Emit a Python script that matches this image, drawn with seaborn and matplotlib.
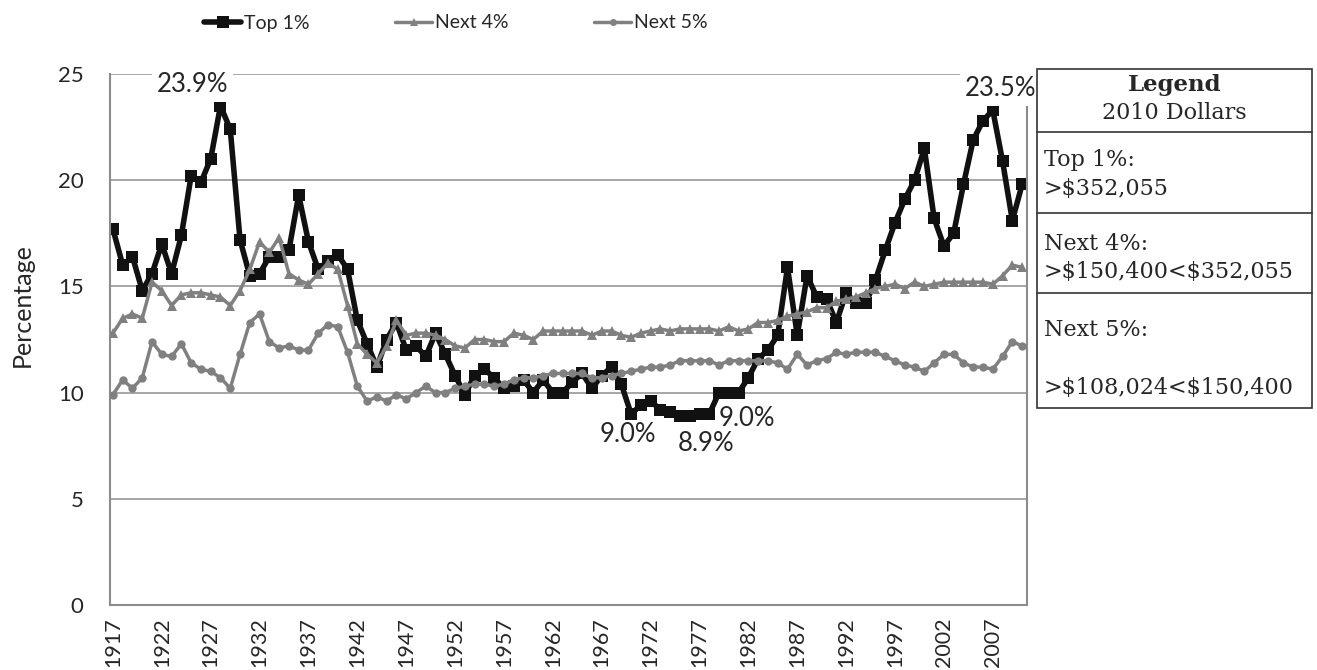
import matplotlib
matplotlib.use("Agg")
import matplotlib.pyplot as plt
from matplotlib.patches import Rectangle
from matplotlib.lines import Line2D
import seaborn as sns
import pandas as pd

years = list(range(1917, 2011))

top1 = [17.7, 16.0, 16.4, 14.8, 15.6, 17.0, 15.6, 17.4, 20.2, 19.9,
        21.0, 23.5, 22.4, 17.2, 15.5, 15.6, 16.4, 16.4, 16.7, 19.3,
        17.1, 15.8, 16.2, 16.5, 15.8, 13.4, 12.3, 11.2, 12.5, 13.3,
        12.0, 12.2, 11.7, 12.8, 11.8, 10.8, 9.9, 10.8, 11.1, 10.7,
        10.2, 10.3, 10.6, 10.0, 10.6, 10.0, 10.0, 10.5, 10.9, 10.2,
        10.8, 11.2, 10.4, 9.0, 9.4, 9.6, 9.2, 9.1, 8.9, 8.9,
        9.0, 9.0, 10.0, 10.0, 10.0, 10.7, 11.6, 12.0, 12.7, 15.9,
        12.7, 15.5, 14.5, 14.4, 13.3, 14.7, 14.2, 14.2, 15.3, 16.7,
        18.0, 19.1, 20.0, 21.5, 18.2, 16.9, 17.5, 19.8, 21.9, 22.8,
        23.3, 20.9, 18.1, 19.8]

next4 = [12.8, 13.5, 13.7, 13.5, 15.2, 14.8, 14.1, 14.6, 14.7, 14.7,
         14.6, 14.5, 14.1, 14.8, 15.8, 17.1, 16.6, 17.3, 15.6, 15.3,
         15.1, 15.6, 16.1, 15.8, 14.1, 12.3, 11.8, 11.4, 12.2, 13.4,
         12.7, 12.8, 12.8, 12.7, 12.5, 12.2, 12.1, 12.5, 12.5, 12.4,
         12.4, 12.8, 12.7, 12.5, 12.9, 12.9, 12.9, 12.9, 12.9, 12.7,
         12.9, 12.9, 12.7, 12.6, 12.8, 12.9, 13.0, 12.9, 13.0, 13.0,
         13.0, 13.0, 12.9, 13.1, 12.9, 13.0, 13.3, 13.3, 13.4, 13.6,
         13.7, 13.8, 14.0, 14.0, 14.3, 14.4, 14.5, 14.7, 14.9, 15.0,
         15.1, 14.9, 15.2, 15.0, 15.1, 15.2, 15.2, 15.2, 15.2, 15.2,
         15.1, 15.5, 16.0, 15.9]

next5 = [9.9, 10.6, 10.2, 10.7, 12.4, 11.8, 11.7, 12.3, 11.4, 11.1,
         11.0, 10.7, 10.2, 11.8, 13.3, 13.7, 12.4, 12.1, 12.2, 12.0,
         12.0, 12.8, 13.2, 13.1, 11.9, 10.3, 9.6, 9.8, 9.6, 9.9,
         9.7, 10.0, 10.3, 10.0, 10.0, 10.2, 10.3, 10.4, 10.4, 10.3,
         10.4, 10.6, 10.7, 10.7, 10.8, 10.9, 10.9, 10.9, 10.9, 10.7,
         10.7, 10.8, 10.9, 11.0, 11.1, 11.2, 11.2, 11.3, 11.5, 11.5,
         11.5, 11.5, 11.3, 11.5, 11.5, 11.5, 11.5, 11.5, 11.4, 11.1,
         11.8, 11.3, 11.5, 11.6, 11.9, 11.8, 11.9, 11.9, 11.9, 11.7,
         11.5, 11.3, 11.2, 11.0, 11.4, 11.8, 11.8, 11.4, 11.2, 11.2,
         11.1, 11.7, 12.4, 12.2]

series_names = ["Top 1%", "Next 4%", "Next 5%"]

# labelled points: (year, text, offset in pixels, white box behind?)
ann_years = [1928, 2007, 1970, 1976, 1978]
ann_text = ["23.9%", "23.5%", "9.0%", "8.9%", "9.0%"]
ann_offsets = [(-28, 21), (8, 22), (-3, -21), (16, -28), (38, -5)]
ann_boxed = [True, True, False, False, False]

table_rows = [
    ("Top 1%:", ">$352,055"),
    ("Next 4%:", ">$150,400<$352,055"),
    ("Next 5%:", ">$108,024<$150,400"),
]

sns.set_style("white")
plt.rcParams['font.family'] = ['Lato', 'DejaVu Sans']
plt.rcParams['text.parse_math'] = False

W, H = 1317, 670
fig = plt.figure(figsize=(W / 100, H / 100), dpi=100)
ax = fig.add_axes([110 / W, 1 - 605 / H, (1027 - 110) / W, (605 - 74) / H])

df = pd.DataFrame({"year": years, "Top 1%": top1, "Next 4%": next4, "Next 5%": next5})

axis_gray = "#8c8c8c"
line_gray = "#808080"

sns.lineplot(data=df, x="year", y="Top 1%", ax=ax, color="#111111", lw=4,
             marker="s", markersize=9, markeredgewidth=0, zorder=2, label="Top 1%")
sns.lineplot(data=df, x="year", y="Next 4%", ax=ax, color=line_gray, lw=2.5,
             marker="^", markersize=7, markeredgewidth=0, zorder=3, label="Next 4%")
sns.lineplot(data=df, x="year", y="Next 5%", ax=ax, color=line_gray, lw=2.5,
             marker="o", markersize=6, markeredgewidth=0, zorder=4, label="Next 5%")
ax.get_legend().remove()

ax.set_xlim(1916.7, 2010.5)
ax.set_ylim(0, 25)
ax.set_yticks(range(0, 26, 5))
ax.set_xticks(years[::5])
ax.set_xticklabels([str(y) for y in years[::5]], rotation=90)
ax.set_xticks(years, minor=True)
ax.grid(axis="y", color="#a6a6a6", lw=1.4, zorder=0)
ax.set_axisbelow(True)

for side in ["left", "bottom", "right"]:
    ax.spines[side].set_color(axis_gray)
    ax.spines[side].set_linewidth(1.5)
ax.spines["top"].set_visible(False)

ax.tick_params(axis="x", which="both", direction="out", length=6, width=1.2,
               color=axis_gray, labelsize=15.5, pad=3)
ax.tick_params(axis="y", direction="out", length=10, width=1.2,
               color=axis_gray, labelsize=16, pad=9)
ax.tick_params(axis="y", which="both", right=False)

ax.set_xlabel("")
ax.set_ylabel("Percentage", fontsize=18)
ax.yaxis.set_label_coords(-0.083, 0.565)

for yr, txt, off, boxed in zip(ann_years, ann_text, ann_offsets, ann_boxed):
    i = years.index(yr)
    box = dict(boxstyle="square,pad=0.2", fc="white", ec="none") if boxed else None
    ax.annotate(txt, xy=(yr, top1[i]), xytext=off, textcoords="offset pixels",
                ha="center", va="center", fontsize=18.5, zorder=10,
                annotation_clip=False, bbox=box)

handles = [
    Line2D([], [], color="#111111", lw=4, marker="s", markersize=8, markeredgewidth=0),
    Line2D([], [], color=line_gray, lw=2.5, marker="^", markersize=6, markeredgewidth=0),
    Line2D([], [], color=line_gray, lw=2.5, marker="o", markersize=5, markeredgewidth=0),
]
fig.legend(handles, series_names, loc="center", bbox_to_anchor=(456 / W, 1 - 23 / H),
           ncol=3, frameon=False, fontsize=14, handlelength=1.9, handletextpad=0.15,
           columnspacing=4.4)


def fx(x):
    return x / W


def fy(y):
    return 1 - y / H


# legend table on the right
left, right, top, bottom = 1037, 1312, 69, 408
fig.add_artist(Rectangle((fx(left), fy(bottom)), fx(right - left), (bottom - top) / H,
                         fill=False, ec="#333333", lw=1.2, transform=fig.transFigure))
for ly in [132, 213, 293]:
    fig.add_artist(Line2D([fx(left), fx(right)], [fy(ly), fy(ly)], color="#333333",
                          lw=1.2, transform=fig.transFigure))

serif = ["DejaVu Serif"]
cx = fx((left + right) / 2)
fig.text(cx, fy(85), "Legend", ha="center", va="center", fontsize=16.5,
         fontweight="bold", family=serif)
fig.text(cx, fy(113), "2010 Dollars", ha="center", va="center", fontsize=16, family=serif)
row_y = [(160, 189), (244, 272), (330, 388)]
for (name, rng), (y1, y2) in zip(table_rows, row_y):
    fig.text(fx(1044), fy(y1), name, ha="left", va="center", fontsize=16, family=serif)
    fig.text(fx(1044), fy(y2), rng, ha="left", va="center", fontsize=16, family=serif)

fig.savefig("out.png", dpi=100)
